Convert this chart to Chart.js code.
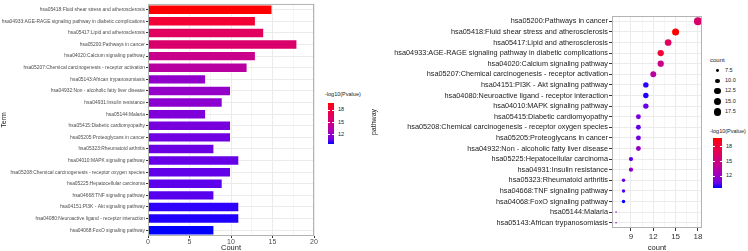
<!DOCTYPE html>
<html>
<head>
<meta charset="utf-8">
<script src="https://cdn.jsdelivr.net/npm/chart.js@4.4.1/dist/chart.umd.min.js"></script>
<style>
	html, body { margin: 0; padding: 0; background: #fff; }
	#wrap { position: relative; width: 748px; height: 251px; overflow: hidden; font-family: "Liberation Sans", Arial, sans-serif; }
	canvas { position: absolute; top: 0; }
	.lg { position: absolute; white-space: nowrap; color: #1a1a1a; line-height: 1; }
</style>
</head>
<body>
<div id="wrap">
	<canvas id="chart-bar" width="318" height="251" style="left:0"></canvas>
	<canvas id="chart-dot" width="338" height="251" style="left:370px"></canvas>
</div>
<script>
	//---------------------------------------------------------
	// Data
	//---------------------------------------------------------

	// Terms in the order of the bar chart (top to bottom)
	const TERMS = [
		"hsa05418:Fluid shear stress and atherosclerosis",
		"hsa04933:AGE-RAGE signaling pathway in diabetic complications",
		"hsa05417:Lipid and atherosclerosis",
		"hsa05200:Pathways in cancer",
		"hsa04020:Calcium signaling pathway",
		"hsa05207:Chemical carcinogenesis - receptor activation",
		"hsa05143:African trypanosomiasis",
		"hsa04932:Non - alcoholic fatty liver disease",
		"hsa04931:Insulin resistance",
		"hsa05144:Malaria",
		"hsa05415:Diabetic cardiomyopathy",
		"hsa05205:Proteoglycans in cancer",
		"hsa05323:Rheumatoid arthritis",
		"hsa04010:MAPK signaling pathway",
		"hsa05208:Chemical carcinogenesis - receptor oxygen species",
		"hsa05225:Hepatocellular carcinoma",
		"hsa04668:TNF signaling pathway",
		"hsa04151:PI3K - Akt signaling pathway",
		"hsa04080:Neuroactive ligand - receptor interaction",
		"hsa04068:FoxO signaling pathway",
	];
	const COUNTS = [15, 13, 14, 18, 13, 12, 7, 10, 9, 7, 10, 10, 8, 11, 10, 9, 8, 11, 11, 8];
	const PVALUES = [19.8, 18.4, 16.6, 16.0, 14.6, 13.6, 11.8, 11.9, 11.6, 11.2, 11.0, 10.8, 10.7, 10.6, 10.5, 10.4, 10.3, 9.8, 9.7, 9.6];

	// Order of the dot plot (top to bottom)
	const DOT_TERMS = [
		"hsa05200:Pathways in cancer",
		"hsa05418:Fluid shear stress and atherosclerosis",
		"hsa05417:Lipid and atherosclerosis",
		"hsa04933:AGE-RAGE signaling pathway in diabetic complications",
		"hsa04020:Calcium signaling pathway",
		"hsa05207:Chemical carcinogenesis - receptor activation",
		"hsa04151:PI3K - Akt signaling pathway",
		"hsa04080:Neuroactive ligand - receptor interaction",
		"hsa04010:MAPK signaling pathway",
		"hsa05415:Diabetic cardiomyopathy",
		"hsa05208:Chemical carcinogenesis - receptor oxygen species",
		"hsa05205:Proteoglycans in cancer",
		"hsa04932:Non - alcoholic fatty liver disease",
		"hsa05225:Hepatocellular carcinoma",
		"hsa04931:Insulin resistance",
		"hsa05323:Rheumatoid arthritis",
		"hsa04668:TNF signaling pathway",
		"hsa04068:FoxO signaling pathway",
		"hsa05144:Malaria",
		"hsa05143:African trypanosomiasis",
	];

	const P_LIMITS = [9.6, 19.8];
	const P_TICKS = [12, 15, 18];
	const SIZE_TICKS = [7.5, 10, 12.5, 15, 17.5];

	//---------------------------------------------------------
	// Helpers
	//---------------------------------------------------------

	// blue -> red gradient, interpolated in Lab like ggplot
	const LAB_LOW = [32.3, 79.19, -107.86];
	const LAB_HIGH = [53.24, 80.09, 67.2];
	const pvalColor = (v) => {
		const t = Math.min(1, Math.max(0, (v - P_LIMITS[0]) / (P_LIMITS[1] - P_LIMITS[0])));
		const [L, a, b] = LAB_LOW.map((c, i) => c + (LAB_HIGH[i] - c) * t);
		const fy = (L + 16) / 116, fx = fy + a / 500, fz = fy - b / 200;
		const f = (c) => (c ** 3 > 0.008856 ? c ** 3 : (c - 16 / 116) / 7.787);
		const X = 0.95047 * f(fx), Y = f(fy), Z = 1.08883 * f(fz);
		const lin = [
			3.2406 * X - 1.5372 * Y - 0.4986 * Z,
			-0.9689 * X + 1.8758 * Y + 0.0415 * Z,
			0.0557 * X - 0.204 * Y + 1.057 * Z,
		];
		const rgb = lin.map((c) => {
			c = Math.min(1, Math.max(0, c));
			return Math.round(255 * (c <= 0.0031308 ? 12.92 * c : 1.055 * c ** (1 / 2.4) - 0.055));
		});
		return `rgb(${rgb.join(",")})`;
	};

	// point size scaled by area
	const countRadius = (c) => (1.5 + 6.5 * Math.sqrt(Math.max(0, c - 7) / 11)) / 2;

	const GRID_MAJOR = "#ebebeb";
	const GRID_MINOR = "#f5f5f5";

	const panelBorder = {
		id: "panelBorder",
		afterDraw(chart) {
			const { ctx, chartArea: a } = chart;
			ctx.save();
			ctx.strokeStyle = "#b3b3b3";
			ctx.lineWidth = 1;
			ctx.strokeRect(a.left + 0.5, a.top + 0.5, a.right - a.left - 1, a.bottom - a.top - 1);
			ctx.restore();
		},
	};

	//---------------------------------------------------------
	// Bar chart
	//---------------------------------------------------------

	new Chart(document.getElementById("chart-bar"), {
		type: "bar",
		data: {
			labels: TERMS,
			datasets: [
				{
					data: COUNTS,
					backgroundColor: PVALUES.map(pvalColor),
					borderColor: "rgba(255,255,255,0.45)",
					borderWidth: 1,
					barPercentage: 0.9,
					categoryPercentage: 1,
				},
			],
		},
		plugins: [panelBorder],
		options: {
			indexAxis: "y",
			responsive: false,
			animation: false,
			layout: { padding: { top: 0, right: 4, left: 0, bottom: 0 } },
			plugins: { legend: { display: false }, tooltip: { enabled: false } },
			scales: {
				x: {
					min: 0,
					max: 20,
					border: { display: false },
					grid: {
						color: (ctx) => (ctx.tick && ctx.tick.value % 5 === 0 ? GRID_MAJOR : GRID_MINOR),
						tickColor: (ctx) => (ctx.tick && ctx.tick.value % 5 === 0 ? "#333" : "rgba(0,0,0,0)"),
						tickLength: 2,
					},
					ticks: {
						stepSize: 2.5,
						autoSkip: false,
						maxRotation: 0,
						padding: 0,
						color: "#4d4d4d",
						font: { size: 7 },
						callback: (v) => (v % 5 === 0 ? v : ""),
					},
					title: { display: true, text: "Count", color: "#1a1a1a", font: { size: 7.5 }, padding: { top: 0, bottom: -1 } },
					afterFit: (s) => { s.height = 15; },
				},
				y: {
					border: { display: false },
					grid: { color: GRID_MAJOR, offset: false, tickColor: "#333", tickLength: 2 },
					ticks: { autoSkip: false, padding: 1, color: "#4d4d4d", font: { size: 4.9 } },
					title: { display: true, text: "Term", color: "#1a1a1a", font: { size: 7 }, padding: 0 },
					afterFit: (s) => { s.width = 148; },
				},
			},
		},
	});

	//---------------------------------------------------------
	// Dot plot
	//---------------------------------------------------------

	const dotData = DOT_TERMS.map((t) => {
		const i = TERMS.indexOf(t);
		return { x: COUNTS[i], y: t, p: PVALUES[i] };
	});

	new Chart(document.getElementById("chart-dot"), {
		type: "scatter",
		data: {
			datasets: [
				{
					data: dotData,
					backgroundColor: dotData.map((d) => pvalColor(d.p)),
					pointRadius: dotData.map((d) => countRadius(d.x)),
					pointBorderWidth: 0,
				},
			],
		},
		plugins: [panelBorder],
		options: {
			responsive: false,
			animation: false,
			layout: { padding: { top: 16, right: 6, left: 0, bottom: 0 } },
			plugins: { legend: { display: false }, tooltip: { enabled: false } },
			scales: {
				x: {
					type: "linear",
					min: 6.45,
					max: 18.55,
					border: { display: false },
					grid: {
						color: (ctx) => (ctx.tick && ctx.tick.value % 3 === 0 ? GRID_MAJOR : GRID_MINOR),
						tickColor: (ctx) => (ctx.tick && ctx.tick.value % 3 === 0 ? "#333" : "rgba(0,0,0,0)"),
						tickLength: 3,
					},
					ticks: {
						stepSize: 1.5,
						includeBounds: false,
						autoSkip: false,
						maxRotation: 0,
						padding: 1,
						color: "#333",
						font: { size: 8 },
						callback: (v) => (v % 3 === 0 ? v : ""),
					},
					title: { display: true, text: "count", color: "#1a1a1a", font: { size: 7.5 }, padding: { top: 0, bottom: -1 } },
					afterFit: (s) => { s.height = 23; },
				},
				y: {
					type: "category",
					labels: DOT_TERMS,
					offset: true,
					border: { display: false },
					grid: { color: GRID_MAJOR, offset: false, tickColor: "#333", tickLength: 3 },
					ticks: { autoSkip: false, padding: 1, color: "#1a1a1a", font: { size: 7.3 } },
					title: { display: true, text: "pathway", color: "#1a1a1a", font: { size: 7 }, padding: 0 },
					afterFit: (s) => { s.width = 242; },
				},
			},
		},
	});

	//---------------------------------------------------------
	// Legends
	//---------------------------------------------------------

	const WRAP = document.getElementById("wrap");
	const addDiv = (css, text) => {
		const d = document.createElement("div");
		d.className = "lg";
		d.style.cssText = css;
		if (text !== undefined) d.textContent = text;
		WRAP.appendChild(d);
		return d;
	};

	const colorbar = (x, y, w, h, titleY, fontSize) => {
		addDiv(`left:${x - 3}px;top:${titleY}px;font-size:${fontSize}px;`, "-log10(Pvalue)");
		const stops = [];
		for (let i = 0; i <= 10; i++) {
			const v = P_LIMITS[1] - (i / 10) * (P_LIMITS[1] - P_LIMITS[0]);
			stops.push(`${pvalColor(v)} ${i * 10}%`);
		}
		addDiv(`left:${x}px;top:${y}px;width:${w}px;height:${h}px;background:linear-gradient(to bottom, ${stops.join(",")});`);
		P_TICKS.forEach((v) => {
			const ty = y + ((P_LIMITS[1] - v) / (P_LIMITS[1] - P_LIMITS[0])) * h;
			addDiv(`left:${x}px;top:${ty - 0.5}px;width:2px;height:1px;background:#fff;`);
			addDiv(`left:${x + w - 2}px;top:${ty - 0.5}px;width:2px;height:1px;background:#fff;`);
			addDiv(`left:${x + w + 4}px;top:${ty - fontSize / 2}px;font-size:${fontSize}px;`, String(v));
		});
	};

	colorbar(328, 103, 6, 41, 92, 5.5);
	colorbar(713, 138, 9, 50, 129, 5.5);

	addDiv("left:710px;top:57px;font-size:6px;", "count");
	const SIZE_Y = [70.7, 81, 91.2, 101.5, 112];
	SIZE_TICKS.forEach((v, i) => {
		const r = countRadius(v);
		addDiv(`left:${717.5 - r}px;top:${SIZE_Y[i] - r}px;width:${2 * r}px;height:${2 * r}px;border-radius:50%;background:#000;`);
		addDiv(`left:725px;top:${SIZE_Y[i] - 2.8}px;font-size:5.5px;`, v.toFixed(1));
	});
</script>
</body>
</html>
